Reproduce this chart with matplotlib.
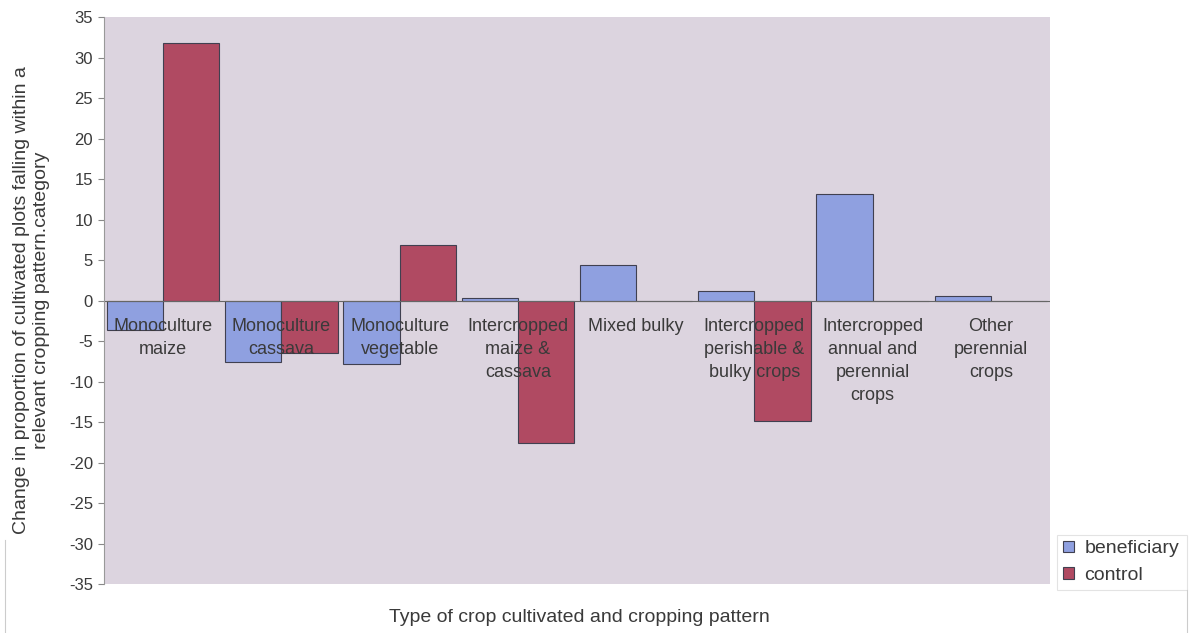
import matplotlib
matplotlib.use("Agg")
import matplotlib.pyplot as plt
import numpy as np

categories = ["Monoculture\nmaize", "Monoculture\ncassava", "Monoculture\nvegetable",
              "Intercropped\nmaize &\ncassava", "Mixed bulky",
              "Intercropped\nperishable &\nbulky crops", "Intercropped\nannual and\nperennial\ncrops",
              "Other\nperennial\ncrops"]
beneficiary = [-3.7, -7.6, -7.9, 0.3, 4.4, 1.2, 13.1, 0.5]
control = [31.8, -6.5, 6.9, -17.6, 0.0, -14.9, 0.0, 0.0]
yticks = list(range(-35, 40, 5))

plt.rcParams['font.family'] = ['Liberation Sans', 'DejaVu Sans']
txt = '#3a3a3a'

fig = plt.figure(figsize=(12.01, 6.33), dpi=100)
fig.patch.set_facecolor('white')
ax = fig.add_axes([104/1201, 1-584/633, (1050-104)/1201, (584-17)/633])
ax.set_facecolor('#dcd4df')

x = np.arange(len(categories))
bw = 1/2.1
ax.bar(x - bw/2, beneficiary, bw, color='#8fa0e0', edgecolor='#404050', linewidth=0.8, label='beneficiary')
ax.bar(x + bw/2, control, bw, color='#b04a62', edgecolor='#404050', linewidth=0.8, label='control')

ax.set_xlim(-0.5, len(categories) - 0.5)
ax.set_ylim(-35, 35)
ax.set_yticks(yticks)
ax.set_yticklabels([str(v) for v in yticks], fontsize=12, color=txt)
ax.tick_params(axis='y', length=4, color='#888888', pad=4)
ax.set_xticks([])
for s in ax.spines.values():
    s.set_visible(False)
ax.spines['left'].set_visible(True)
ax.spines['left'].set_color('#999999')
ax.axhline(0, color='#666666', linewidth=0.8)

for i, lab in enumerate(categories):
    ax.text(i, -2.2, lab, ha='center', va='top', fontsize=13, color=txt,
            linespacing=1.45, transform=ax.transData)

ax.set_ylabel("Change in proportion of cultivated plots falling within a\nrelevant cropping pattern.category",
              fontsize=14, color=txt, linespacing=1.2)
ax.yaxis.set_label_coords(-0.057, 0.5)
fig.text(579/1201, 1-617/633, "Type of crop cultivated and cropping pattern", ha='center', va='center',
         fontsize=14, color=txt)

leg = ax.legend(loc='lower left', bbox_to_anchor=(1057/1201, 1-590/633, 130/1201, 63/633),
                bbox_transform=fig.transFigure, mode='expand', frameon=True, fancybox=False,
                fontsize=14, handlelength=0.55, handleheight=0.55, handletextpad=0.55,
                borderaxespad=0, labelspacing=0.5, borderpad=0.3)
leg.get_frame().set_edgecolor('#dddddd')
leg.get_frame().set_linewidth(0.8)
for t in leg.get_texts():
    t.set_color(txt)

# chart-area border fragments
fig.add_artist(plt.Line2D([1187/1201, 1187/1201], [0, 1-590/633], transform=fig.transFigure,
                          color='#cccccc', linewidth=0.8))
fig.add_artist(plt.Line2D([5/1201, 5/1201], [0, 1-540/633], transform=fig.transFigure,
                          color='#cccccc', linewidth=0.8))

fig.savefig('out.png', dpi=100)
